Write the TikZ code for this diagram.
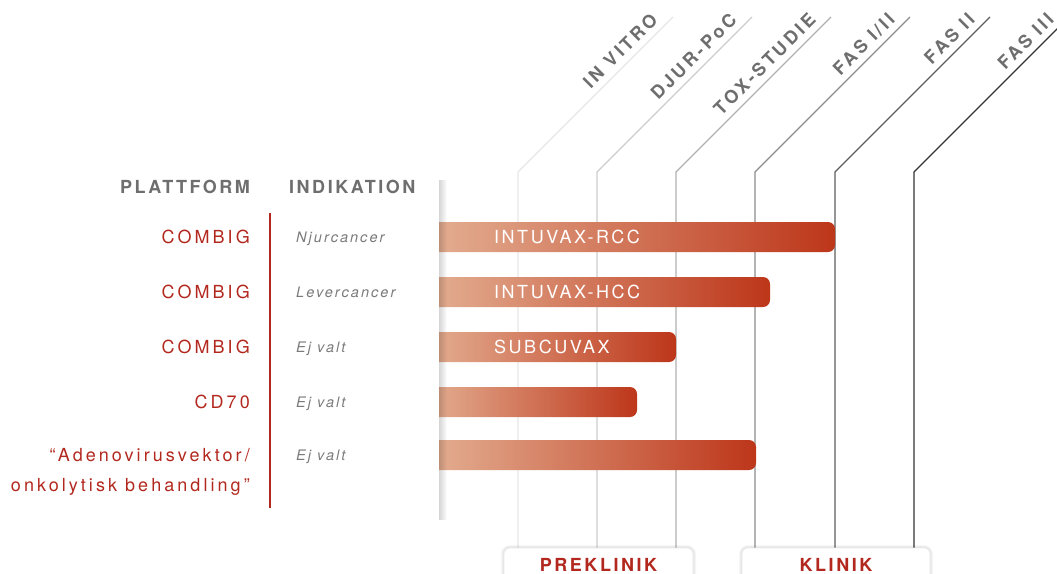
\documentclass[tikz,border=0pt]{standalone}
\usepackage{fontspec}
\setmainfont{TeX Gyre Heros}
\newfontfamily\hvls[LetterSpace=14]{TeX Gyre Heros}
\newfontfamily\hvlw[LetterSpace=17]{TeX Gyre Heros}
\usetikzlibrary{fadings}
\definecolor{rd}{HTML}{B3281E}
\definecolor{hdrgray}{HTML}{6E6E6E}
\definecolor{indgray}{HTML}{7A7A7A}
\definecolor{barL}{HTML}{E4B093}
\definecolor{barM}{HTML}{D5825C}
\definecolor{barR}{HTML}{BD361A}
\definecolor{lnA}{HTML}{E6E6E6}
\definecolor{lnB}{HTML}{CDCDCD}
\definecolor{lnC}{HTML}{B0B0B0}
\definecolor{lnD}{HTML}{8C8C8C}
\definecolor{lnE}{HTML}{5E5E5E}
\definecolor{lnF}{HTML}{333333}
\tikzfading[name=shadowfade, left color=transparent!0, right color=transparent!100]
\begin{document}
\begin{tikzpicture}[x=1pt,y=-1pt,
  hdr/.style={font=\hvls\fontsize{18}{20}\selectfont\bfseries, text=hdrgray, inner sep=0pt},
  plat/.style={font=\hvlw\fontsize{18}{20}\selectfont, text=rd, anchor=base east, inner sep=0pt},
  ind/.style={font=\hvls\fontsize{14.5}{16}\selectfont\itshape, text=indgray, anchor=base west, inner sep=0pt},
  bartxt/.style={font=\hvls\fontsize{18}{20}\selectfont, text=white, anchor=base west, inner sep=0pt},
  phase/.style={font=\hvlw\fontsize{18}{20}\selectfont\bfseries, text=hdrgray, anchor=base east, rotate=45, inner sep=0pt},
  stage/.style={font=\hvls\fontsize{18}{20}\selectfont\bfseries, text=rd, anchor=base, inner sep=0pt},
  phline/.style={line width=1.2pt, line join=miter},
  stagebox/.style={draw=black!8, fill=white, rounded corners=6pt, line width=0.6pt},
]
\useasboundingbox (0,0) rectangle (1057,573);

% phase lines
\draw[phline, lnA] (518,548) -- (518,172) -- (673,17);
\draw[phline, lnB] (597,548) -- (597,172) -- (752,17);
\draw[phline, lnC] (676,548) -- (676,172) -- (831,17);
\draw[phline, lnD] (755,548) -- (755,172) -- (910,17);
\draw[phline, lnE] (835,548) -- (835,172) -- (990,17);
\draw[phline, lnF] (914,548) -- (914,172) -- (1069,17);

\node[phase] (ph1) at (659,21) {IN VITRO};
\node[phase] (ph2) at (738,21) {DJUR-PoC};
\node[phase] (ph3) at (817,21) {TOX-STUDIE};
\node[phase] (ph4) at (896,21) {FAS I/II};
\node[phase] (ph5) at (976,21) {FAS II};
\node[phase] (ph6) at (1055,21) {FAS III};

% bars
\foreach \yt/\xe in {222/835,277/770,332/676,387/637,440/756}{
  \begin{scope}
    \clip (439,\yt) rectangle (1057,\yt+30);
    \shade[left color=barL, middle color=barM, right color=barR, rounded corners=7pt] (425,\yt) rectangle (\xe,\yt+30);
  \end{scope}
}

% panel shadow
\fill[black, opacity=0.16, path fading=shadowfade] (439,180) rectangle (447,520);

% headers
\node[hdr, anchor=base east] (hplat) at (250,193.5) {PLATTFORM};
\node[hdr, anchor=base west] (hind) at (289,193.5) {INDIKATION};

% separator
\draw[rd, line width=1.2pt] (270,213) -- (270,508);

% rows
\node[plat] (pl1) at (250,243.5) {COMBIG};
\node[plat] (pl2) at (250,298.5) {COMBIG};
\node[plat] (pl3) at (250,353.5) {COMBIG};
\node[plat] (pl4) at (250,408.5) {CD70};
\node[plat] (pl5) at (250,461.5) {“Adenovirusvektor/};
\node[plat] (pl6) at (250,491.5) {onkolytisk behandling”};

\node[ind] (in1) at (296,242.5) {Njurcancer};
\node[ind] (in2) at (296,297.5) {Levercancer};
\node[ind] (in3) at (296,352.5) {Ej valt};
\node[ind] (in4) at (296,407.5) {Ej valt};
\node[ind] (in5) at (296,460.5) {Ej valt};

\node[bartxt] (bt1) at (494,243.5) {INTUVAX-RCC};
\node[bartxt] (bt2) at (494,298.5) {INTUVAX-HCC};
\node[bartxt] (bt3) at (494,353.5) {SUBCUVAX};

% stage boxes
\foreach \d in {6,4,2}{
  \draw[black, opacity=0.035, line width=\d pt, rounded corners=6pt] (504,548) rectangle (693,600);
  \draw[black, opacity=0.035, line width=\d pt, rounded corners=6pt] (742,548) rectangle (930,600);
}
\draw[stagebox] (504,548) rectangle (693,600);
\draw[stagebox] (742,548) rectangle (930,600);
\node[stage] (prek) at (598.5,571) {PREKLINIK};
\node[stage] (klin) at (836,571) {KLINIK};
\end{tikzpicture}
\end{document}
